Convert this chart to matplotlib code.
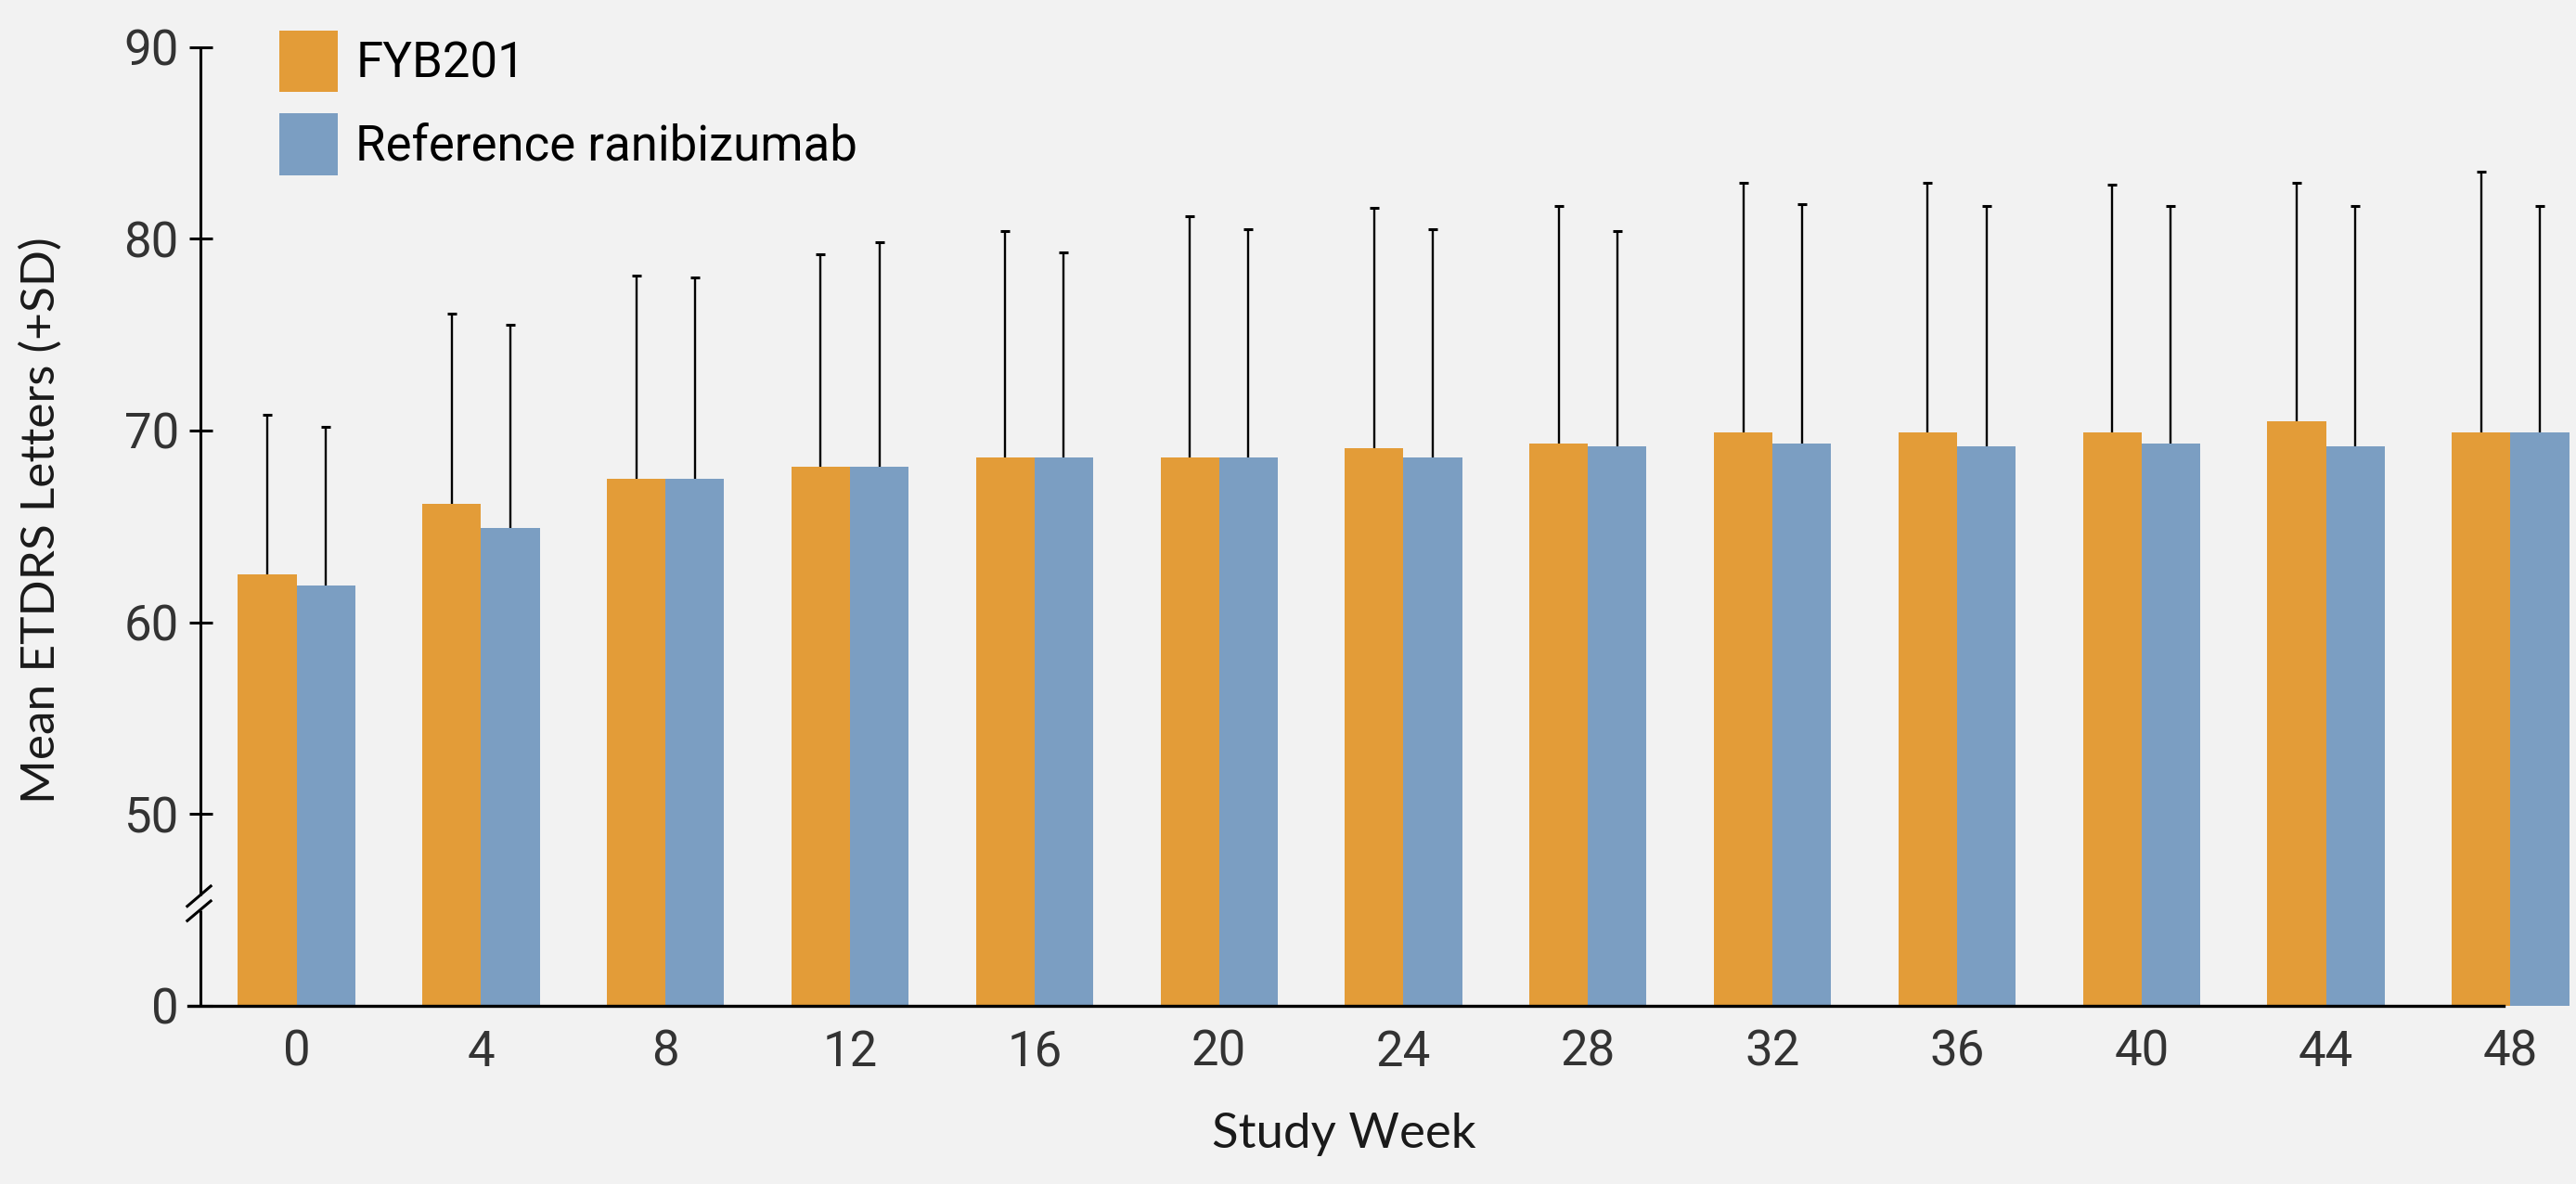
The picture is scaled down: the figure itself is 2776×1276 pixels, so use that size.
import numpy as np
import matplotlib
matplotlib.use("Agg")
import matplotlib.pyplot as plt
from matplotlib.scale import FuncScale

# Study visits (weeks)
weeks = [0, 4, 8, 12, 16, 20, 24, 28, 32, 36, 40, 44, 48]

# Mean ETDRS letters per arm
fyb201_mean = [62.5, 66.2, 67.5, 68.1, 68.6, 68.6, 69.1, 69.3, 69.9, 69.9, 69.9, 70.5, 69.9]
ranibizumab_mean = [61.9, 64.9, 67.5, 68.1, 68.6, 68.6, 68.6, 69.2, 69.3, 69.2, 69.3, 69.2, 69.9]

# Mean + SD (top of the error bar)
fyb201_upper = [70.8, 76.1, 78.1, 79.2, 80.4, 81.2, 81.6, 81.7, 82.9, 82.9, 82.8, 82.9, 83.5]
ranibizumab_upper = [70.2, 75.5, 78.0, 79.8, 79.3, 80.5, 80.5, 80.4, 81.8, 81.7, 81.7, 81.7, 81.7]

series_labels = ["FYB201", "Reference ranibizumab"]
y_ticks = [0, 50, 60, 70, 80, 90]

ORANGE = "#E39C38"
BLUE = "#7B9EC2"
BG = "#F2F2F2"
TICK_FONT = ["Roboto", "DejaVu Sans"]
LABEL_FONT = ["Lato", "DejaVu Sans"]


def forward(v):
    v = np.asarray(v, dtype=float)
    return np.where(v < 50, v / 5.0, v - 40.0)


def inverse(u):
    u = np.asarray(u, dtype=float)
    return np.where(u < 10, u * 5.0, u + 40.0)


fig = plt.figure(figsize=(27.76, 12.76), dpi=100, facecolor=BG)
ax = fig.add_axes([0.0777, 0.1505, 1 - 0.0777, 0.8098])
ax.set_facecolor(BG)
ax.set_yscale(FuncScale(ax, (forward, inverse)))

x = np.array(weeks, dtype=float)
bw = 1.27

b1 = ax.bar(x - bw / 2, fyb201_mean, width=bw, color=ORANGE, label=series_labels[0],
            zorder=2, clip_on=False)
b2 = ax.bar(x + bw / 2, ranibizumab_mean, width=bw, color=BLUE, label=series_labels[1],
            zorder=2, clip_on=False)

# upper-only SD whiskers with a cap at the top
for xs, lo, hi in ((x - bw / 2, fyb201_mean, fyb201_upper),
                   (x + bw / 2, ranibizumab_mean, ranibizumab_upper)):
    ax.vlines(xs, lo, hi, colors="black", linewidth=1.7, zorder=3)
    ax.plot(xs, hi, linestyle="none", marker="_", markersize=6.6,
            markeredgewidth=2.2, color="black", zorder=3)

ax.set_xlim(-2.09, 49.42)
ax.set_ylim(0, 90)

# axes frame
for side in ("top", "right", "left"):
    ax.spines[side].set_visible(False)
ax.spines["bottom"].set_linewidth(2.4)
ax.spines["bottom"].set_bounds(-2.35, 47.85)
ax.spines["bottom"].set_zorder(4)

# left axis drawn in two pieces around the break
line_kw = dict(color="black", lw=2.2, transform=ax.transAxes, clip_on=False, zorder=4,
               solid_capstyle="butt")
ax.plot([0, 0], [0, 0.1000], **line_kw)
ax.plot([0, 0], [0.1155, 1.0], **line_kw)
ax.plot([-0.00586, 0.00492], [0.1029, 0.1258], **line_kw)
ax.plot([-0.00586, 0.00492], [0.0878, 0.1103], **line_kw)

ax.set_yticks(y_ticks)
ax.set_yticklabels([str(t) for t in y_ticks])
ax.set_xticks(weeks)
ax.set_xticklabels([str(w) for w in weeks])
ax.tick_params(axis="y", direction="inout", length=18, width=2.2, color="black",
               pad=7.5, labelsize=38, labelcolor="#333333")
ax.tick_params(axis="x", length=0, pad=18, labelsize=38, labelcolor="#333333")
for lab in ax.get_xticklabels() + ax.get_yticklabels():
    lab.set_family(TICK_FONT)

ax.set_xlabel("Study Week", fontsize=38, family=LABEL_FONT, color="#1a1a1a")
ax.xaxis.set_label_coords(0.4813, -0.1336)
ax.xaxis.label.set_va("center")
ax.set_ylabel("Mean ETDRS Letters (+SD)", fontsize=37, family=LABEL_FONT, color="#1a1a1a",
              va="center")
ax.yaxis.set_label_coords(-0.067, 0.506)

leg = ax.legend(handles=[b1, b2], loc="upper left", bbox_to_anchor=(0.0333, 1.017),
                frameon=False, borderpad=0, borderaxespad=0, handlelength=1.2,
                handleheight=1.55, handletextpad=0.36, labelspacing=0.44,
                prop={"family": TICK_FONT, "size": 38})
for t in leg.get_texts():
    t.set_color("black")

fig.savefig("out.png", dpi=100, facecolor=BG)
